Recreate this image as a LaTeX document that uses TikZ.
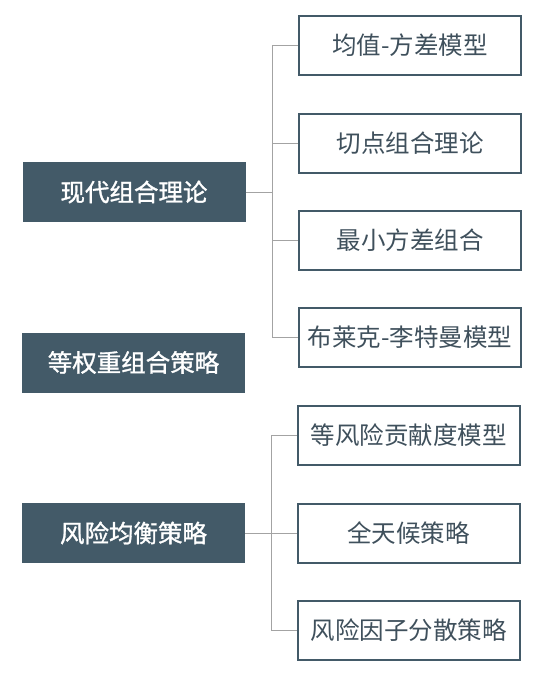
\documentclass[tikz,border=0pt]{standalone}
\usepackage{fontspec}
\setmainfont{Noto Sans CJK SC}
\newfontfamily\cjkbold[FakeBold=1.2]{Noto Sans CJK SC}
\definecolor{slate}{HTML}{435A68}
\definecolor{slatetext}{HTML}{3F505C}
\definecolor{conn}{HTML}{A3A3A3}
\begin{document}
\begin{tikzpicture}[x=1pt,y=-1pt,
  leftbox/.style={fill=slate, text=white, minimum width=223pt, minimum height=60pt, inner sep=0pt,
    font=\cjkbold\fontsize{24.5}{24.5}\selectfont},
  rightbox/.style={draw=slate, line width=2pt, fill=white, text=slatetext, minimum width=222pt,
    minimum height=59pt, inner sep=0pt, font=\fontsize{24.5}{24.5}\selectfont},
  link/.style={draw=conn, line width=1pt}]
\useasboundingbox[fill=white] (0,0) rectangle (546,680);

\node[leftbox] (A) at (134,192) {现代组合理论};
\node[leftbox] (B) at (133.5,362.5) {等权重组合策略};
\node[leftbox] (C) at (133.5,533) {风险均衡策略};

\node[rightbox] (r1) at (410,45) {均值-方差模型};
\node[rightbox] (r2) at (410,143) {切点组合理论};
\node[rightbox] (r3) at (410,240.5) {最小方差组合};
\node[rightbox] (r4) at (410,337.5) {布莱克-李特曼模型};

\node[rightbox] (r5) at (408.5,435.5) {等风险贡献度模型};
\node[rightbox] (r6) at (408.5,533) {全天候策略};
\node[rightbox] (r7) at (408.5,630.5) {风险因子分散策略};

\coordinate (ja) at (272,0);
\coordinate (jc) at (271,0);

\draw[link] (A.east) -- (A.east -| ja);
\draw[link] (r1.west) -- (r1.west -| ja) -- (r4.west -| ja) -- (r4.west);
\draw[link] (r2.west) -- (r2.west -| ja);
\draw[link] (r3.west) -- (r3.west -| ja);

\draw[link] (C.east) -- (r6.west);
\draw[link] (r5.west) -- (r5.west -| jc) -- (r7.west -| jc) -- (r7.west);
\end{tikzpicture}
\end{document}
